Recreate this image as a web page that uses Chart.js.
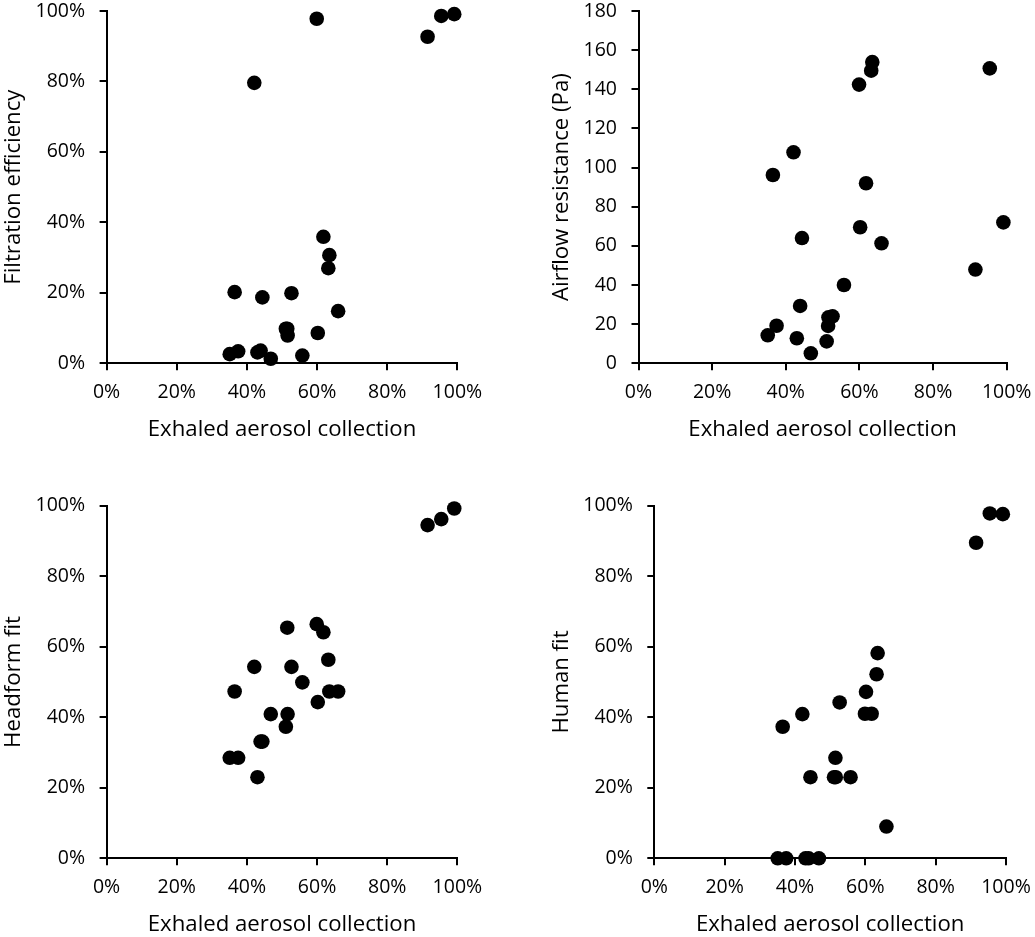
<!DOCTYPE html>
<html>
<head>
<meta charset="utf-8">
<script src="https://cdn.jsdelivr.net/npm/chart.js@4"></script>
<style>
html, body { margin: 0; padding: 0; background: #fff; }
#wrap { position: relative; width: 1035px; height: 937px; overflow: hidden; }
canvas { position: absolute; }
</style>
</head>
<body>
<div id="wrap">
  <canvas id="c1" width="517" height="468" style="left:0;top:0"></canvas>
  <canvas id="c2" width="518" height="468" style="left:517px;top:0"></canvas>
  <canvas id="c3" width="517" height="469" style="left:0;top:468px"></canvas>
  <canvas id="c4" width="518" height="469" style="left:517px;top:468px"></canvas>
</div>
<script>
// ---- Data (percent values) ----
const exhaledCollection = [35.1, 36.5, 37.5, 42.1, 43.0, 43.9, 44.4, 46.8, 51.1, 51.5, 51.6, 52.7, 55.8, 59.9, 60.2, 61.8, 63.2, 63.5, 66.0, 91.5, 95.4, 99.1];
const filtrationEfficiency = [2.6, 20.2, 3.4, 79.6, 3.1, 3.6, 18.7, 1.3, 9.8, 9.8, 7.9, 19.9, 2.2, 97.8, 8.6, 35.9, 27.0, 30.7, 14.8, 92.7, 98.6, 99.1];
const airflowResistance = [14.3, 96.2, 19.2, 107.8, 12.8, 29.3, 64.0, 5.1, 11.2, 19.1, 23.5, 24.0, 40.0, 142.4, 69.5, 92.0, 149.5, 153.9, 61.3, 47.9, 150.7, 72.0];
const headformFit = [28.5, 47.3, 28.5, 54.3, 23.0, 33.1, 33.1, 40.9, 37.3, 65.4, 40.9, 54.3, 49.9, 66.4, 44.3, 64.1, 56.3, 47.3, 47.3, 94.5, 96.2, 99.2];
const humanFit = [0, 37.3, 0, 40.9, 0, 0, 23.0, 0, 23.0, 28.5, 23.0, 44.2, 23.0, 41.0, 47.2, 41.0, 52.2, 58.2, 9.0, 89.5, 97.8, 97.6];

const xTitle = 'Exhaled aerosol collection';
const percentTicks = [0, 20, 40, 60, 80, 100];
const pascalTicks = [0, 20, 40, 60, 80, 100, 120, 140, 160, 180];

const FONT = 'Open Sans';
const TICK_SIZE = 19.5;
const TITLE_SIZE = 22.2;

function makeChart(id, yValues, yTitle, yTickValues, yIsPercent, lay) {
  const ctx = document.getElementById(id);
  const yMax = yTickValues[yTickValues.length - 1];
  return new Chart(ctx, {
    type: 'scatter',
    data: {
      datasets: [{
        data: exhaledCollection.map((x, i) => ({ x: x, y: yValues[i] })),
        backgroundColor: '#000',
        borderColor: '#000',
        pointRadius: 7.3,
        pointHoverRadius: 7.3,
        pointBorderWidth: 0,
        clip: false
      }]
    },
    options: {
      responsive: false,
      animation: false,
      events: [],
      layout: { padding: lay.padding },
      plugins: { legend: { display: false }, tooltip: { enabled: false } },
      scales: {
        x: {
          type: 'linear',
          min: 0, max: 100,
          afterBuildTicks: s => { s.ticks = percentTicks.map(v => ({ value: v })); },
          ticks: {
            callback: v => v + '%',
            color: '#000',
            font: { family: FONT, size: TICK_SIZE },
            padding: 10.5,
            maxRotation: 0,
            autoSkip: false
          },
          grid: { display: true, drawOnChartArea: false, drawTicks: true, tickLength: 7, color: '#000', lineWidth: 2 },
          border: { display: true, color: '#000', width: 2 },
          title: {
            display: true, text: xTitle, color: '#000',
            font: { family: FONT, size: TITLE_SIZE, lineHeight: 1.0 },
            padding: { top: 0, bottom: lay.xTitlePad }
          },
          afterFit: s => { s.height = lay.xHeight; s.paddingLeft = 0; s.paddingRight = 0; }
        },
        y: {
          type: 'linear',
          min: 0, max: yMax,
          afterBuildTicks: s => { s.ticks = yTickValues.map(v => ({ value: v })); },
          ticks: {
            callback: v => yIsPercent ? v + '%' : String(v),
            color: '#000',
            font: { family: FONT, size: TICK_SIZE },
            padding: 14.5,
            autoSkip: false
          },
          grid: { display: true, drawOnChartArea: false, drawTicks: true, tickLength: 7, color: '#000', lineWidth: 2 },
          border: { display: true, color: '#000', width: 2 },
          title: {
            display: true, text: yTitle, color: '#000',
            font: { family: FONT, size: TITLE_SIZE, lineHeight: 1.0 },
            padding: { top: lay.yTitlePad, bottom: 0 }
          },
          afterFit: s => { s.width = lay.yWidth; s.paddingTop = 0; s.paddingBottom = 0; }
        }
      }
    }
  });
}

makeChart('c1', filtrationEfficiency, 'Filtration efficiency', percentTicks, true,
  { padding: { top: 11, left: 0, right: 59.6, bottom: 0 }, xHeight: 104.7, yWidth: 106.6, xTitlePad: 26.9, yTitlePad: 2.9 });
makeChart('c2', airflowResistance, 'Airflow resistance (Pa)', pascalTicks, false,
  { padding: { top: 11, left: 30, right: 28.3, bottom: 0 }, xHeight: 104.7, yWidth: 91.5, xTitlePad: 26.9, yTitlePad: 3.6 });
makeChart('c3', headformFit, 'Headform fit', percentTicks, true,
  { padding: { top: 37.7, left: 0, right: 59.6, bottom: 0 }, xHeight: 78.7, yWidth: 106.6, xTitlePad: 0.9, yTitlePad: 2.9 });
makeChart('c4', humanFit, 'Human fit', percentTicks, true,
  { padding: { top: 37.7, left: 30, right: 29, bottom: 0 }, xHeight: 78.7, yWidth: 107.3, xTitlePad: 0.9, yTitlePad: 3.6 });
</script>
</body>
</html>
